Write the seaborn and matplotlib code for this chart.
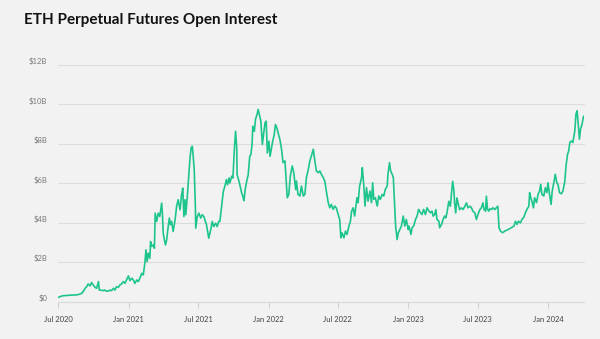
import matplotlib
matplotlib.use("Agg")
import matplotlib.pyplot as plt
import matplotlib.dates as mdates
import matplotlib.transforms as mtransforms
import seaborn as sns
import pandas as pd

# ---- data ----
start_date = "2020-07-01"
day_offsets = [
    0, 9, 17, 26, 35, 44, 52, 61, 65, 70, 74, 78, 83, 87, 91, 96, 100, 105, 107, 111,
    118, 122, 126, 131, 135, 139, 144, 148, 152, 157, 161, 165, 170, 174, 178, 183, 187, 192,
    196, 200, 205, 209, 213, 218, 222, 226, 229, 232, 235, 239, 241, 244, 248, 251, 253, 257,
    261, 265, 270, 272, 274, 277, 280, 283, 287, 290, 293, 296, 300, 305, 309, 313, 318, 322,
    325, 328, 331, 333, 337, 340, 344, 347, 350, 352, 355, 358, 359, 363, 367, 372, 376, 380,
    387, 393, 399, 402, 406, 411, 415, 419, 422, 426, 431, 435, 439, 442, 446, 448, 453, 456,
    460, 463, 466, 467, 472, 475, 479, 482, 485, 488, 492, 496, 500, 503, 506, 508, 512, 515,
    519, 522, 526, 529, 533, 536, 540, 543, 546, 550, 553, 557, 560, 564, 567, 571, 575,
    579, 583, 587, 592, 596, 598, 602, 606, 611, 615, 620, 622, 626, 631, 635, 640, 644, 648,
    653, 657, 661, 666, 670, 674, 679, 683, 687, 692, 696, 700, 705, 709, 713, 718, 722, 726,
    731, 735, 738, 741, 746, 750, 754, 759, 763, 766, 770, 774,
    780, 783, 787, 792, 794, 798, 801, 805, 809, 814, 818, 821, 824, 828, 833, 837, 841, 846,
    850, 854, 859, 861, 865, 868, 872, 875, 879, 881, 885, 888, 892, 896, 901, 905, 909, 914,
    916, 921, 924, 928, 933, 937, 941, 946, 950, 954, 959, 963, 968, 972, 976,
    979, 983, 986, 989, 994, 996, 1001, 1005, 1009, 1012, 1015, 1020, 1024, 1027, 1030, 1033,
    1035, 1038, 1041, 1045, 1048, 1053, 1057, 1062, 1066, 1070, 1075, 1079, 1083, 1088, 1092,
    1096, 1101, 1105, 1109, 1112, 1116, 1118, 1121, 1124, 1127, 1131, 1135, 1140, 1144, 1148,
    1151, 1155, 1160, 1163,
    1166, 1175, 1183, 1190, 1194, 1198, 1202, 1207, 1211, 1216, 1220, 1224, 1229, 1231, 1234,
    1237, 1241, 1244, 1249, 1253, 1257, 1260, 1263, 1268, 1272, 1276, 1279, 1283, 1287, 1290,
    1295, 1298, 1302, 1305, 1309, 1314, 1318, 1323, 1326, 1330, 1333, 1336, 1340, 1344, 1349,
    1352, 1355, 1358, 1361, 1364, 1368, 1371, 1373,
]
open_interest_b = [
    0.22, 0.29, 0.31, 0.32, 0.34, 0.34, 0.36, 0.42, 0.51, 0.68, 0.76, 0.90, 0.80, 0.97, 0.85, 0.73, 0.68, 1.02, 0.59, 0.59,
    0.56, 0.59, 0.53, 0.54, 0.59, 0.56, 0.68, 0.59, 0.76, 0.73, 0.85, 0.90, 1.02, 0.93, 1.10, 1.31, 1.07, 1.19,
    1.10, 0.93, 1.10, 1.02, 1.19, 1.44, 1.36, 1.95, 2.63, 2.03, 2.46, 2.20, 3.05, 2.80, 2.88, 2.71, 4.49, 4.07,
    4.49, 4.32, 5.00, 4.41, 3.47, 3.14, 2.88, 3.14, 3.81, 4.24, 3.90, 4.07, 3.56, 4.15, 4.83, 5.17, 4.66, 5.42,
    5.76, 4.32, 5.17, 4.41, 5.34, 6.19, 7.29, 7.80, 7.88, 7.46, 6.69, 4.83, 3.73, 4.32, 4.49, 4.24, 4.41, 4.32,
    3.90, 3.22, 3.73, 4.07, 3.81, 3.98, 3.81, 4.07, 4.07, 4.75, 5.59, 5.85, 6.19, 5.93, 6.27, 6.02, 6.36, 6.27,
    7.80, 8.64, 7.80, 6.44, 6.10, 5.85, 5.51, 5.34, 5.12, 5.68, 6.10, 6.44, 7.37, 7.46, 7.97, 8.90, 8.64, 9.24,
    9.49, 9.75, 9.41, 9.15, 7.97, 8.47, 9.07, 9.15, 7.54, 8.14, 7.37, 7.80, 8.14, 8.47, 8.98, 8.81, 8.49,
    8.20, 7.73, 7.05, 7.14, 5.86, 5.27, 5.44, 6.37, 6.88, 6.54, 5.69, 6.12, 5.44, 5.36, 5.86, 5.36, 5.44, 6.29,
    6.71, 7.14, 7.39, 7.73, 7.14, 6.63, 6.54, 6.63, 6.46, 6.29, 6.12, 5.61, 5.02, 4.76, 4.93, 4.68, 4.85, 4.76,
    4.42, 4.17, 3.24, 3.49, 3.24, 3.58, 3.41, 3.83, 4.08, 4.59, 4.76, 4.34,
    5.27, 5.02, 5.86, 6.29, 6.80, 5.86, 4.85, 5.78, 5.10, 5.61, 5.02, 6.03, 5.19, 5.27, 4.85, 5.36, 5.19, 5.44,
    5.36, 5.69, 5.86, 6.46, 7.05, 6.63, 6.46, 6.29, 4.68, 3.83, 3.15, 3.49, 3.66, 3.83, 4.34, 3.83, 4.17, 3.66,
    3.83, 3.41, 3.75, 3.83, 4.17, 4.34, 4.68, 4.51, 4.42, 4.68, 4.42, 4.76, 4.59, 4.51, 4.59,
    4.34, 4.42, 4.67, 4.17, 4.08, 3.75, 3.92, 4.17, 4.34, 4.25, 4.50, 5.09, 4.84, 5.51, 6.10, 5.68,
    5.01, 4.50, 5.26, 4.92, 4.67, 4.76, 4.67, 4.84, 5.01, 4.76, 4.84, 4.76, 4.59, 4.50, 4.17,
    4.42, 4.67, 4.76, 5.01, 4.67, 4.59, 5.35, 4.70, 4.59, 4.71, 4.67, 4.76, 4.67, 4.76, 4.84,
    3.75, 3.58, 3.50, 3.53,
    3.58, 3.66, 3.75, 3.83, 4.08, 3.92, 4.08, 4.00, 4.17, 4.29, 4.51, 4.68, 4.85, 5.53, 5.27,
    5.10, 4.76, 5.27, 5.02, 5.44, 5.61, 5.95, 5.44, 5.36, 5.78, 5.53, 6.03, 5.44, 4.93, 5.61,
    6.12, 6.46, 6.03, 5.95, 5.53, 5.47, 5.61, 6.12, 6.88, 7.47, 7.64, 8.07, 8.15, 8.07, 8.66,
    9.51, 9.68, 9.00, 8.24, 8.75, 9.00, 9.34, 9.42,
]
x_tick_dates = ["2020-07-01", "2021-01-01", "2021-07-01", "2022-01-01",
                "2022-07-01", "2023-01-01", "2023-07-01", "2024-01-01"]
y_ticks = [0, 2, 4, 6, 8, 10, 12]
y_tick_labels = ["$0", "$2B", "$4B", "$6B", "$8B", "$10B", "$12B"]
title = "ETH Perpetual Futures Open Interest"

# ---- build frame ----
df = pd.DataFrame({
    "date": pd.Timestamp(start_date) + pd.to_timedelta(day_offsets, unit="D"),
    "oi": open_interest_b,
})

BG = "#f2f2f2"
sns.set_theme(style="white")
plt.rcParams["font.family"] = ["Lato", "DejaVu Sans"]

fig = plt.figure(figsize=(6.0, 3.39), dpi=100, facecolor=BG)
ax = fig.add_axes([58.3 / 600, 1 - 301.7 / 339, (584 - 58.3) / 600, (301.7 - 65) / 339])
ax.set_facecolor(BG)

sns.lineplot(data=df, x="date", y="oi", ax=ax, color="#1dc58b", linewidth=1.2)

ax.set_ylim(0, 12)
ax.set_xlim(df["date"].iloc[0], pd.Timestamp(start_date) + pd.Timedelta(days=1373))

ax.set_yticks(y_ticks)
ax.set_yticklabels(y_tick_labels)
ax.set_xticks(pd.to_datetime(x_tick_dates))
ax.xaxis.set_major_formatter(mdates.DateFormatter("%b %Y"))

ax.grid(axis="y", color="#dcdcdc", linewidth=0.8)
ax.grid(axis="x", visible=False)
for s in ["top", "right", "left"]:
    ax.spines[s].set_visible(False)
ax.spines["bottom"].set_color("#dcdcdc")
ax.spines["bottom"].set_linewidth(0.8)
ax.set_axisbelow(True)
for line in ax.get_ygridlines():
    line.set_clip_on(False)

ax.tick_params(axis="x", which="major", length=4, width=0.8, color="#d0d0d0",
               labelsize=5.5, labelcolor="#444444", pad=6, bottom=True)
ax.tick_params(axis="y", which="major", length=0, labelsize=5.5,
               labelcolor="#777777", pad=8)
offset = mtransforms.ScaledTranslation(0, 4 / 100, fig.dpi_scale_trans)
for lab in ax.get_yticklabels():
    lab.set_transform(lab.get_transform() + offset)

ax.set_xlabel("")
ax.set_ylabel("")

fig.text(24 / 600, 1 - 20 / 339, title, fontsize=11, fontweight="bold",
         color="#111111", va="center", ha="left")

fig.savefig("out.png", dpi=100, facecolor=BG)
